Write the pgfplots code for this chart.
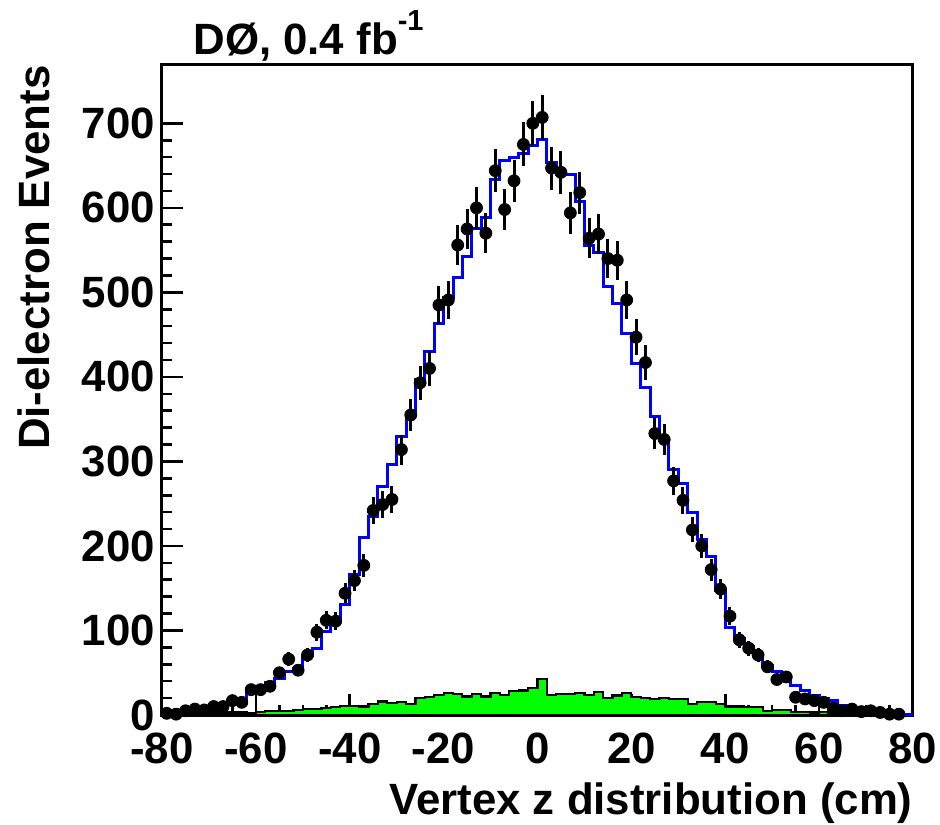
\documentclass[border=0pt]{standalone}
\usepackage{pgfplots}
\pgfplotsset{compat=1.18}
\usepackage{pgfplotstable}
\usepackage{fontspec}
\setmainfont{Liberation Sans}

\pgfplotstableread{
x y
-80 1
-78 1
-76 1
-74 1
-72 1
-70 2
-68 3
-66 3
-64 3
-62 2
-60 4
-58 5
-56 5
-54 5
-52 6
-50 7
-48 7
-46 8
-44 9
-42 11
-40 11
-38 10
-36 13
-34 16
-32 14
-30 15
-28 13
-26 20
-24 21
-22 24
-20 26
-18 25
-16 22
-14 25
-12 22
-10 26
-8 24
-6 28
-4 29
-2 32
0 43
2 24
4 25
6 25
8 26
10 24
12 27
14 20
16 23
18 26
20 21
22 20
24 19
26 20
28 19
30 19
32 13
34 15
36 15
38 13
40 10
42 10
44 9
46 9
48 5
50 6
52 6
54 4
56 4
58 3
60 4
62 2
64 2
66 2
68 1
70 1
72 1
74 1
76 0.5
78 0.5
80 0.5
}\bkg

\pgfplotstableread{
x y
-80 3
-78 3
-76 5
-74 6
-72 7
-70 8
-68 14
-66 15
-64 16
-62 26
-60 30
-58 38
-56 43
-54 51
-52 55
-50 70
-48 79
-46 99
-44 112
-42 131
-40 166
-38 210
-36 235
-34 270
-32 296
-30 329
-28 355
-26 397
-24 430
-22 463
-20 494
-18 518
-16 542
-14 575
-12 588
-10 633
-8 656
-6 659
-4 664
-2 674
0 681
2 654
4 639
6 639
8 607
10 555
12 547
14 507
16 487
18 451
20 416
22 387
24 353
26 327
28 290
30 274
32 239
34 208
36 188
38 147
40 104
42 90
44 81
46 72
48 58
50 51
52 44
54 35
56 29
58 23
60 20
62 17
64 11
66 9
68 7
70 5
72 4
74 3
76 2
78 1
80 1
}\mc

\pgfplotstableread{
x y e
-79 2 1.41
-77 1 1
-75 5 2.24
-73 7 2.65
-71 6 2.45
-69 10 3.16
-67 10 3.16
-65 17 4.12
-63 15 3.87
-61 30 5.48
-59 30 5.48
-57 34 5.83
-55 50 7.07
-53 66 8.12
-51 53 7.28
-49 71 8.43
-47 98 9.9
-45 112 10.58
-43 111 10.54
-41 144 12
-39 159 12.61
-37 177 13.3
-35 242 15.56
-33 249 15.78
-31 255 15.97
-29 314 17.72
-27 355 18.84
-25 393 19.82
-23 410 20.25
-21 485 22.02
-19 491 22.16
-17 556 23.58
-15 575 23.98
-13 600 24.49
-11 570 23.87
-9 644 25.38
-7 598 24.45
-5 632 25.14
-3 675 25.98
-1 700 26.46
1 707 26.59
3 647 25.44
5 642 25.34
7 594 24.37
9 618 24.86
11 564 23.75
13 569 23.85
15 540 23.24
17 538 23.19
19 491 22.16
21 447 21.14
23 417 20.42
25 333 18.25
27 326 18.06
29 277 16.64
31 254 15.94
33 219 14.8
35 200 14.14
37 172 13.11
39 149 12.21
41 117 10.82
43 89 9.43
45 79 8.89
47 71 8.43
49 57 7.55
51 42 6.48
53 45 6.71
55 21 4.58
57 19 4.36
59 17 4.12
61 15 3.87
63 8 2.83
65 5 2.24
67 7 2.65
69 4 2
71 5 2.24
73 3 1.73
75 1 1
77 1 1
}\data

\newcommand{\bigbf}{\fontsize{21.9}{24}\selectfont\bfseries}

\begin{document}
\begin{tikzpicture}
\useasboundingbox (-81pt,-54.5pt) rectangle (389pt,357.5pt);
\begin{axis}[
  name=ax, at={(0,0)}, anchor=south west,
  scale only axis, width=375.5pt, height=325pt,
  xmin=-80, xmax=80, ymin=0, ymax=769,
  clip=false,
  axis line style={line width=1.5pt},
  tick align=inside,
  xtick pos=left, ytick pos=left,
  xtick={-80,-60,-40,-20,0,20,40,60,80},
  xticklabels={-80,-60,-40,-20,0,20,40,60,80},
  ytick={0,100,200,300,400,500,600,700},
  yticklabels={0,100,200,300,400,500,600,700},
  minor x tick num=3, minor y tick num=4,
  major tick length=10.5pt, minor tick length=5.2pt,
  tick style={line width=1.3pt, black},
  ticklabel style={font=\bigbf},
  xticklabel style={yshift=-5.5pt},
  yticklabel style={xshift=0pt},
]
\addplot[const plot, fill=green, draw=black, line width=1.1pt] table[x=x,y=y] {\bkg} \closedcycle;
\addplot[const plot, color=blue, line width=1.5pt] table[x=x,y=y] {\mc};
\addplot[only marks, mark=*, mark size=3pt, black,
  error bars/.cd, y dir=both, y explicit,
  error bar style={line width=1.5pt, black}, error mark=none]
  table[x=x, y=y, y error=e] {\data};
\end{axis}
\node[anchor=base west, inner sep=0, font=\bigbf] at ([xshift=15.5pt, yshift=5pt]ax.north west) {DØ, 0.4 fb\raisebox{0.55em}{\fontsize{14.5}{14.5}\selectfont -1}};
\node[rotate=90, anchor=base east, inner sep=0, font=\bigbf] at ([xshift=-56pt]ax.north west) {Di-electron Events};
\node[anchor=base east, inner sep=0, font=\bigbf] at ([yshift=-49.5pt]ax.south east) {Vertex z distribution (cm)};
\end{tikzpicture}
\end{document}
